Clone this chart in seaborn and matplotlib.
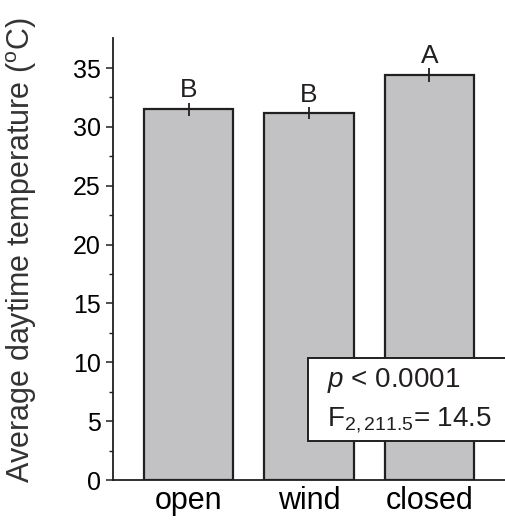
"""
Average daytime temperature by enclosure treatment
Bar chart with SE error bars and Tukey letters
"""

import numpy as np
import pandas as pd
import matplotlib
matplotlib.use("Agg")
import matplotlib.pyplot as plt
import seaborn as sns
from matplotlib.patches import Rectangle

# data
treatments = ["open", "wind", "closed"]
mean_temp = [31.5, 31.2, 34.4]
se_temp = [0.55, 0.5, 0.6]
letters = ["B", "B", "A"]

y_ticks = [0, 5, 10, 15, 20, 25, 30, 35]
stat_lines = ["$p$ < 0.0001", "F$_{2,211.5}$= 14.5"]

sns.set_theme(style="white")
plt.rcParams['font.family'] = ['Liberation Sans', 'DejaVu Sans']
plt.rcParams['mathtext.fontset'] = 'custom'
plt.rcParams['mathtext.rm'] = 'Liberation Sans'
plt.rcParams['mathtext.it'] = 'Liberation Sans:italic'

edge = '#231f20'
bar_fill = '#c2c2c4'

df = pd.DataFrame({'treatment': treatments, 'temp': mean_temp, 'se': se_temp})

fig = plt.figure(figsize=(5.05, 5.23), dpi=100)
ax = fig.add_axes([0.2238, 0.0822, 0.776, 0.8451])

sns.barplot(data=df, x='treatment', y='temp', order=treatments, color=bar_fill,
            saturation=1, width=0.74, edgecolor=edge, linewidth=1.6,
            errorbar=None, ax=ax)

xpos = np.arange(len(treatments))
ax.errorbar(xpos, df['temp'], yerr=df['se'], fmt='none', ecolor=edge,
            elinewidth=1.3, capsize=0, zorder=5)

for x, m, s, lab in zip(xpos, mean_temp, se_temp, letters):
    ax.text(x, m + s + 0.45, lab, ha='center', va='baseline', fontsize=19,
            color=edge)

ax.set_xlim(-0.627, 2.627)
ax.set_ylim(0, 37.55)
ax.set_yticks(y_ticks)
ax.set_yticks(np.arange(2.5, 37.5, 5), minor=True)

for side in ['top', 'right']:
    ax.spines[side].set_visible(False)
for side in ['left', 'bottom']:
    ax.spines[side].set_color(edge)
    ax.spines[side].set_linewidth(1.3)

ax.tick_params(axis='y', which='major', direction='out', length=5, width=1.1,
               color=edge, labelsize=18, pad=4, left=True)
ax.tick_params(axis='y', which='minor', direction='out', length=3, width=1.0,
               color=edge, left=True)
ax.tick_params(axis='x', length=0, labelsize=22, pad=4)
for lbl in ax.get_xticklabels() + ax.get_yticklabels():
    lbl.set_color('black')

ax.set_xlabel('')
ax.set_ylabel('Average daytime temperature ($^{\\rm o}$C)', fontsize=22,
              color='#333333')
ax.yaxis.set_label_coords(-0.19, 0.52)

# stats box, runs off the right edge like the original
box = Rectangle((0.497, 0.088), 0.6, 0.188, transform=ax.transAxes,
                facecolor='white', edgecolor=edge, linewidth=1.4,
                clip_on=False, zorder=6)
ax.add_patch(box)
ax.text(0.545, 0.225, stat_lines[0], transform=ax.transAxes, fontsize=20,
        ha='left', va='center', color='#231f20', zorder=7)
ax.text(0.545, 0.135, stat_lines[1], transform=ax.transAxes, fontsize=20,
        ha='left', va='center', color='#231f20', zorder=7)

fig.savefig('out.png', dpi=100)
